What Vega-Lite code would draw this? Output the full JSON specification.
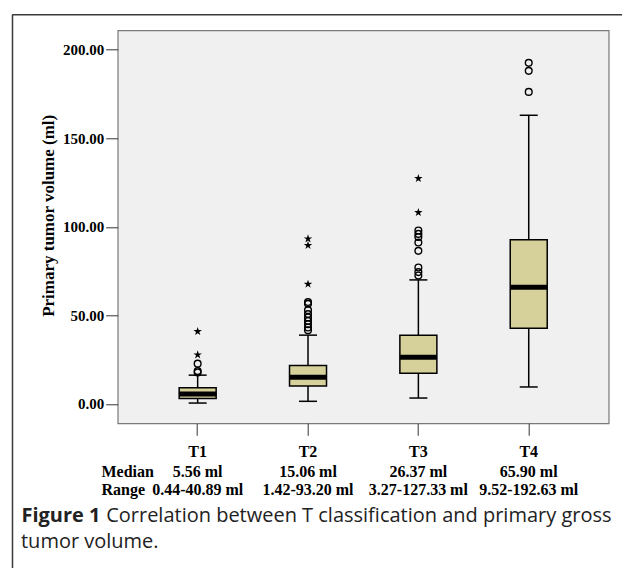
{
  "$schema": "https://vega.github.io/schema/vega-lite/v6.json",
  "background": "white",
  "padding": {"left": 10.7, "top": 13.3, "right": 0, "bottom": 0},
  "datasets": {
    "summary": [
      {"cat": "T1", "low": 0.44, "q1": 3.0, "median": 5.56, "q3": 9.1, "high": 16.2},
      {"cat": "T2", "low": 1.42, "q1": 10.0, "median": 15.06, "q3": 21.7, "high": 38.8},
      {"cat": "T3", "low": 3.27, "q1": 17.3, "median": 26.37, "q3": 38.8, "high": 70.0},
      {"cat": "T4", "low": 9.52, "q1": 42.7, "median": 65.9, "q3": 92.7, "high": 163.0}
    ],
    "outliers": [
      {"cat": "T1", "value": 17.7, "kind": "outlier"},
      {"cat": "T1", "value": 18.5, "kind": "outlier"},
      {"cat": "T1", "value": 22.7, "kind": "outlier"},
      {"cat": "T1", "value": 27.7, "kind": "extreme"},
      {"cat": "T1", "value": 40.89, "kind": "extreme"},
      {"cat": "T2", "value": 41.6, "kind": "outlier"},
      {"cat": "T2", "value": 43.1, "kind": "outlier"},
      {"cat": "T2", "value": 45.0, "kind": "outlier"},
      {"cat": "T2", "value": 46.9, "kind": "outlier"},
      {"cat": "T2", "value": 48.8, "kind": "outlier"},
      {"cat": "T2", "value": 50.7, "kind": "outlier"},
      {"cat": "T2", "value": 52.9, "kind": "outlier"},
      {"cat": "T2", "value": 56.5, "kind": "outlier"},
      {"cat": "T2", "value": 57.5, "kind": "outlier"},
      {"cat": "T2", "value": 67.6, "kind": "extreme"},
      {"cat": "T2", "value": 89.5, "kind": "extreme"},
      {"cat": "T2", "value": 93.2, "kind": "extreme"},
      {"cat": "T3", "value": 72.5, "kind": "outlier"},
      {"cat": "T3", "value": 74.4, "kind": "outlier"},
      {"cat": "T3", "value": 77.0, "kind": "outlier"},
      {"cat": "T3", "value": 86.4, "kind": "outlier"},
      {"cat": "T3", "value": 91.1, "kind": "outlier"},
      {"cat": "T3", "value": 94.2, "kind": "outlier"},
      {"cat": "T3", "value": 96.0, "kind": "outlier"},
      {"cat": "T3", "value": 97.9, "kind": "outlier"},
      {"cat": "T3", "value": 108.1, "kind": "extreme"},
      {"cat": "T3", "value": 127.33, "kind": "extreme"},
      {"cat": "T4", "value": 176.2, "kind": "outlier"},
      {"cat": "T4", "value": 188.1, "kind": "outlier"},
      {"cat": "T4", "value": 192.63, "kind": "outlier"}
    ],
    "table": [
      {"cat": "T1", "row": "Median", "value": "5.56 ml"},
      {"cat": "T2", "row": "Median", "value": "15.06 ml"},
      {"cat": "T3", "row": "Median", "value": "26.37 ml"},
      {"cat": "T4", "row": "Median", "value": "65.90 ml"},
      {"cat": "T1", "row": "Range", "value": "0.44-40.89 ml"},
      {"cat": "T2", "row": "Range", "value": "1.42-93.20 ml"},
      {"cat": "T3", "row": "Range", "value": "3.27-127.33 ml"},
      {"cat": "T4", "row": "Range", "value": "9.52-192.63 ml"}
    ]
  },
  "spacing": 53.7,
  "bounds": "flush",
  "vconcat": [
    {
      "width": 491,
      "height": 393,
      "view": {"fill": "#f0f0f0", "stroke": "#7a7a7a", "strokeWidth": 1.2},
      "resolve": {
        "scale": {"x": "independent", "y": "independent"},
        "axis": {"x": "independent", "y": "independent"}
      },
      "layer": [
        {
          "encoding": {
            "x": {
              "field": "cat",
              "type": "nominal",
              "scale": {"type": "band", "paddingInner": 0, "paddingOuter": 0.2246},
              "axis": {
                "title": null,
                "orient": "bottom",
                "domain": false,
                "labelAngle": 0,
                "tickSize": 12,
                "tickColor": "#333333",
                "tickWidth": 1,
                "labelFont": "Liberation Serif",
                "labelFontWeight": "bold",
                "labelFontSize": 16,
                "labelColor": "black",
                "labelPadding": 8
              }
            }
          },
          "layer": [
            {
              "data": {"name": "summary"},
              "mark": {"type": "rule", "color": "black", "strokeWidth": 1.5},
              "encoding": {
                "y": {
                  "field": "low",
                  "type": "quantitative",
                  "scale": {"domain": [-11, 211], "nice": false, "zero": false},
                  "axis": {
                    "title": "Primary tumor volume (ml)",
                    "orient": "left",
                    "values": [0, 50, 100, 150, 200],
                    "format": ".2f",
                    "domain": false,
                    "grid": false,
                    "tickSize": 12,
                    "tickColor": "#333333",
                    "tickWidth": 1,
                    "labelFont": "Liberation Serif",
                    "labelFontWeight": "bold",
                    "labelFontSize": 15,
                    "labelColor": "black",
                    "labelPadding": 2,
                    "titleFont": "Liberation Serif",
                    "titleFontWeight": "bold",
                    "titleFontSize": 17,
                    "titleColor": "black",
                    "titlePadding": 5,
                    "titleY": 185
                  }
                },
                "y2": {"field": "high"}
              }
            },
            {
              "data": {"name": "summary"},
              "mark": {"type": "tick", "color": "black", "size": 18, "thickness": 1.5, "opacity": 1},
              "encoding": {"y": {"field": "low", "type": "quantitative"}}
            },
            {
              "data": {"name": "summary"},
              "mark": {"type": "tick", "color": "black", "size": 18, "thickness": 1.5, "opacity": 1},
              "encoding": {"y": {"field": "high", "type": "quantitative"}}
            },
            {
              "data": {"name": "summary"},
              "mark": {"type": "bar", "size": 37, "fill": "#d6d19b", "stroke": "black", "strokeWidth": 1.5, "opacity": 1},
              "encoding": {
                "y": {"field": "q1", "type": "quantitative"},
                "y2": {"field": "q3"}
              }
            },
            {
              "data": {"name": "summary"},
              "mark": {"type": "tick", "color": "black", "size": 37, "thickness": 5, "opacity": 1},
              "encoding": {"y": {"field": "median", "type": "quantitative"}}
            },
            {
              "data": {"name": "outliers"},
              "transform": [{"filter": "datum.kind === 'outlier'"}],
              "mark": {"type": "point", "shape": "circle", "filled": false, "stroke": "black", "strokeWidth": 1.4, "size": 45, "opacity": 1},
              "encoding": {"y": {"field": "value", "type": "quantitative"}}
            },
            {
              "data": {"name": "outliers"},
              "transform": [{"filter": "datum.kind === 'extreme'"}],
              "mark": {"type": "point", "shape": "M0,-1L0.2245,-0.309L0.9511,-0.309L0.3633,0.118L0.5878,0.809L0,0.382L-0.5878,0.809L-0.3633,0.118L-0.9511,-0.309L-0.2245,-0.309Z", "filled": true, "fill": "black", "strokeWidth": 0, "size": 80, "opacity": 1},
              "encoding": {"y": {"field": "value", "type": "quantitative"}}
            }
          ]
        },
        {
          "data": {"values": [{}]},
          "mark": {"type": "point", "opacity": 0, "size": 1},
          "encoding": {
            "x": {
              "datum": 0.5,
              "type": "quantitative",
              "scale": {"domain": [0, 1], "range": [-106, 530], "nice": false, "zero": false},
              "axis": {"orient": "top", "offset": 16, "title": null, "labels": false, "ticks": false, "grid": false, "domain": true, "domainColor": "#3a3a3a", "domainWidth": 1.5}
            },
            "y": {
              "datum": 0.5,
              "type": "quantitative",
              "scale": {"domain": [0, 1], "range": [555, -16], "nice": false, "zero": false},
              "axis": {"orient": "left", "offset": 105.7, "title": null, "labels": false, "ticks": false, "grid": false, "domain": true, "domainColor": "#3a3a3a", "domainWidth": 1.5}
            }
          }
        }
      ]
    },
    {
      "width": 491,
      "height": 18,
      "view": {"stroke": null},
      "data": {"name": "table"},
      "title": {
        "text": "tumor volume.",
        "orient": "bottom",
        "anchor": "start",
        "font": "Open Sans",
        "fontSize": 20,
        "fontWeight": "normal",
        "color": "#222222",
        "offset": 6
      },
      "mark": {"type": "text", "font": "Liberation Serif", "fontWeight": "bold", "fontSize": 16, "baseline": "alphabetic", "align": "center", "color": "black"},
      "encoding": {
        "x": {
          "field": "cat",
          "type": "nominal",
          "scale": {"type": "band", "paddingInner": 0, "paddingOuter": 0.2246},
          "axis": {
            "labels": false,
            "ticks": false,
            "domain": false,
            "title": "Correlation between T classification and primary gross",
            "titleFont": "Open Sans",
            "titleFontSize": 20,
            "titleFontWeight": "normal",
            "titleColor": "#222222",
            "titleAlign": "left",
            "titleAnchor": "start",
            "titleBaseline": "alphabetic",
            "titleX": -12,
            "titleY": 27
          }
        },
        "y": {
          "field": "row",
          "type": "ordinal",
          "scale": {"type": "point", "padding": 0, "domain": ["Median", "Range"]},
          "axis": {
            "title": "Figure 1",
            "titleAngle": 0,
            "titleX": -96.7,
            "titleY": 45,
            "titleAlign": "left",
            "titleBaseline": "alphabetic",
            "titleFont": "Open Sans",
            "titleFontSize": 20,
            "titleFontWeight": "bold",
            "titleColor": "#222222",
            "ticks": false,
            "tickSize": 0,
            "domain": false,
            "labelAlign": "left",
            "labelPadding": 16.7,
            "labelBaseline": "alphabetic",
            "labelFont": "Liberation Serif",
            "labelFontSize": 16,
            "labelFontWeight": "bold",
            "labelColor": "black"
          }
        },
        "text": {"field": "value"}
      }
    }
  ],
  "config": {"view": {"stroke": null}}
}
